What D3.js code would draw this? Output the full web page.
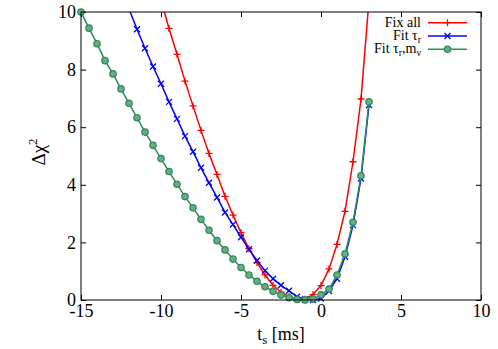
<!DOCTYPE html>
<html>
<head>
<meta charset="utf-8">
<script src="https://cdn.jsdelivr.net/npm/d3@7"></script>
<style>
  body { margin: 0; background: #fff; }
  text { font-family: "Liberation Serif", "Times New Roman", serif; fill: #000; }
</style>
</head>
<body>
<script>
// Data
var tsFix = [-10, -9.5, -9, -8.5, -8, -7.5, -7, -6.5, -6, -5.5, -5, -4.5, -4, -3.5, -3, -2.5, -2, -1.5, -1, -0.5, 0, 0.5, 1, 1.5, 2, 2.5, 3];
var chiFix = [10.41, 9.43, 8.53, 7.60, 6.74, 5.89, 5.09, 4.36, 3.60, 2.95, 2.34, 1.78, 1.30, 0.87, 0.51, 0.27, 0.11, 0.02, 0.03, 0.19, 0.50, 1.08, 1.93, 3.08, 4.80, 6.98, 10.41];

var tsTau = [-12, -11.5, -11, -10.5, -10, -9.5, -9, -8.5, -8, -7.5, -7, -6.5, -6, -5.5, -5, -4.5, -4, -3.5, -3, -2.5, -2, -1.5, -1, -0.5, 0, 0.5, 1, 1.5, 2, 2.5, 3];
var chiTau = [10.11, 9.40, 8.74, 8.11, 7.51, 6.88, 6.29, 5.69, 5.15, 4.59, 4.07, 3.56, 3.04, 2.62, 2.18, 1.76, 1.37, 1.02, 0.74, 0.51, 0.32, 0.11, 0.03, 0.0, 0.05, 0.31, 0.74, 1.50, 2.60, 4.22, 6.77];

var tsTauM = [-15, -14.5, -14, -13.5, -13, -12.5, -12, -11.5, -11, -10.5, -10, -9.5, -9, -8.5, -8, -7.5, -7, -6.5, -6, -5.5, -5, -4.5, -4, -3.5, -3, -2.5, -2, -1.5, -1, -0.5, 0, 0.5, 1, 1.5, 2, 2.5, 3];
var chiTauM = [10.0, 9.44, 8.90, 8.31, 7.85, 7.33, 6.83, 6.33, 5.83, 5.37, 4.91, 4.46, 4.02, 3.59, 3.20, 2.80, 2.42, 2.06, 1.74, 1.42, 1.13, 0.87, 0.65, 0.46, 0.30, 0.17, 0.08, 0.02, 0.0, 0.03, 0.18, 0.38, 0.87, 1.60, 2.70, 4.31, 6.88];

var xTicks = [-15, -10, -5, 0, 5, 10];
var yTicks = [0, 2, 4, 6, 8, 10];

(function() {
    var w = 498, h = 349;
    var pLeft = 81, pRight = 481, pTop = 12, pBottom = 300;
    var serif = "'Liberation Serif', 'Times New Roman', serif";

    var svg = d3.select("body").append("svg")
        .attr("width", w)
        .attr("height", h);

    svg.append("rect").attr("width", w).attr("height", h).attr("fill", "#fff");

    var x = d3.scaleLinear().domain([-15, 10]).range([pLeft, pRight]);
    var y = d3.scaleLinear().domain([0, 10]).range([pBottom, pTop]);

    svg.append("clipPath").attr("id", "clip")
      .append("rect")
        .attr("x", pLeft).attr("y", pTop)
        .attr("width", pRight - pLeft).attr("height", pBottom - pTop);

    // Axes (ticks pointing inward, mirrored)
    var fmt = function(d) { return String(d); };
    var axB = svg.append("g").attr("transform", "translate(0," + pBottom + ")")
        .call(d3.axisBottom(x).tickValues(xTicks).tickSize(-5).tickPadding(4).tickFormat(fmt));
    var axT = svg.append("g").attr("transform", "translate(0," + pTop + ")")
        .call(d3.axisTop(x).tickValues(xTicks).tickSize(-5).tickFormat(""));
    var axL = svg.append("g").attr("transform", "translate(" + pLeft + ",0)")
        .call(d3.axisLeft(y).tickValues(yTicks).tickSize(-5).tickPadding(5).tickFormat(fmt));
    var axR = svg.append("g").attr("transform", "translate(" + pRight + ",0)")
        .call(d3.axisRight(y).tickValues(yTicks).tickSize(-5).tickFormat(""));

    [axB, axT, axL, axR].forEach(function(g) {
        g.select(".domain").remove();
        g.attr("font-family", serif);
        g.selectAll("line").attr("stroke", "#000");
        g.selectAll("text")
            .style("font-family", serif)
            .style("font-size", "18px")
            .attr("fill", "#000");
    });

    // Series
    var series = [
        { name: "fix", ts: tsFix, chi: chiFix, color: "#ff0000", mark: "plus" },
        { name: "tau", ts: tsTau, chi: chiTau, color: "#0000ff", mark: "cross" },
        { name: "taum", ts: tsTauM, chi: chiTauM, color: "#2e8b57", mark: "circle" }
    ];

    var line = d3.line().x(function(d) { return x(d[0]); }).y(function(d) { return y(d[1]); });

    function drawMark(g, mark, color) {
        if (mark === "plus") {
            g.append("path").attr("d", "M-3.5,0H3.5M0,-3.5V3.5")
                .attr("stroke", color).attr("stroke-width", 1.3).attr("fill", "none");
        } else if (mark === "cross") {
            g.append("path").attr("d", "M-3,-3L3,3M-3,3L3,-3")
                .attr("stroke", color).attr("stroke-width", 1.3).attr("fill", "none");
        } else {
            g.append("circle").attr("r", 3.2)
                .attr("fill", "#6aaa86").attr("stroke", color).attr("stroke-width", 1.2);
        }
    }

    series.forEach(function(s) {
        var pts = s.ts.map(function(t, i) { return [t, s.chi[i]]; });
        svg.append("path")
            .datum(pts)
            .attr("clip-path", "url(#clip)")
            .attr("d", line)
            .attr("fill", "none")
            .attr("stroke", s.color)
            .attr("stroke-width", 1.5);
        pts.filter(function(p) { return p[1] >= 0 && p[1] <= 10; }).forEach(function(p) {
            var g = svg.append("g").attr("transform", "translate(" + x(p[0]) + "," + y(p[1]) + ")");
            drawMark(g, s.mark, s.color);
        });
    });

    // Border
    svg.append("rect")
        .attr("x", pLeft).attr("y", pTop)
        .attr("width", pRight - pLeft).attr("height", pBottom - pTop)
        .attr("fill", "none").attr("stroke", "#000").attr("stroke-width", 1);

    // Legend
    var legend = [
        { parts: [["Fix all", 0]], color: "#ff0000", mark: "plus" },
        { parts: [["Fit \u03c4", 0], ["r", 1]], color: "#0000ff", mark: "cross" },
        { parts: [["Fit \u03c4", 0], ["r", 1], [",m", 0], ["\u03bd", 1]], color: "#2e8b57", mark: "circle" }
    ];
    legend.forEach(function(item, i) {
        var by = 26.7 + i * 13.3;
        var t = svg.append("text")
            .attr("x", 421).attr("y", by)
            .attr("text-anchor", "end")
            .style("font-family", serif)
            .style("font-size", "14px");
        var shift = 0;
        item.parts.forEach(function(p) {
            var dy = p[1] ? 3 - shift : -shift;
            shift += dy;
            t.append("tspan").attr("dy", dy)
                .style("font-size", p[1] ? "10px" : "14px")
                .text(p[0]);
        });
        svg.append("line")
            .attr("x1", 428).attr("x2", 467)
            .attr("y1", by - 4).attr("y2", by - 4)
            .attr("stroke", item.color).attr("stroke-width", 1.5);
        var g = svg.append("g").attr("transform", "translate(447.5," + (by - 4) + ")");
        drawMark(g, item.mark, item.color);
    });

    // Axis titles
    var xl = svg.append("text")
        .attr("x", 281).attr("y", 340)
        .attr("text-anchor", "middle")
        .style("font-family", serif)
        .style("font-size", "18px");
    xl.append("tspan").text("t");
    xl.append("tspan").attr("dy", 4).style("font-size", "13px").text("s");
    xl.append("tspan").attr("dy", -4).text(" [ms]");

    var yl = svg.append("text")
        .attr("transform", "translate(45,152) rotate(-90)")
        .attr("text-anchor", "middle")
        .style("font-family", serif)
        .style("font-size", "19px");
    yl.append("tspan").text("\u0394\u03c7");
    yl.append("tspan").attr("dy", -8).style("font-size", "13px").text("2");
})();
</script>
</body>
</html>
